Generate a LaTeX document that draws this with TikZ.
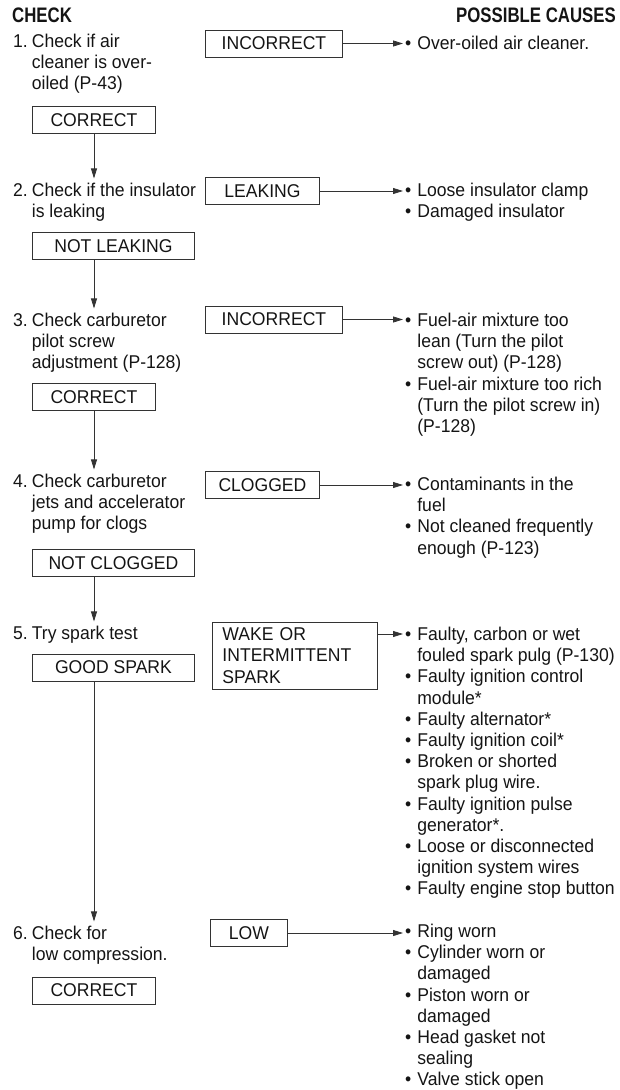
\documentclass[tikz,border=0pt]{standalone}
\usepackage{fontspec}
\setmainfont{Liberation Sans}[FakeStretch=0.95]
\newfontfamily\headfont{Liberation Sans}[FakeStretch=0.8]
\usetikzlibrary{arrows.meta, positioning}
\tikzstyle{result} = [rectangle, draw=black!80, line width=0.9pt, minimum height=27pt, inner xsep=0pt, anchor=west, text centered]
\tikzstyle{check} = [anchor=base west, inner sep=0pt]
\tikzstyle{cause} = [anchor=base west, inner sep=0pt]
\tikzstyle{heading} = [inner sep=0pt, font=\headfont\fontsize{21}{25}\selectfont\bfseries]
\tikzstyle{arrow} = [line width=0.8pt, draw=black!80, -{Triangle[length=10pt,width=6pt]}]
\newcommand{\stepitem}[2]{#1\hspace{4pt}\begin{tabular}[t]{@{}l@{}}#2\end{tabular}}
\newcommand{\causelist}[1]{\begin{tabular}[t]{@{}l@{\hspace{6pt}}l@{}}#1\end{tabular}}

\begin{document}
\begin{tikzpicture}[x=1pt, y=-1pt, font=\fontsize{18.5}{21.2}\selectfont, text=black!92]
    \useasboundingbox (0,0) rectangle (620,1090);
    \coordinate (spine) at (94,0);

    \node (head1) [heading, anchor=base west] at (12,22.5) {CHECK};
    \node (head2) [heading, anchor=base east] at (616,22.5) {POSSIBLE CAUSES};

    % 1. air cleaner
    \node (s1) [check] at (13,47.5) {\stepitem{1.}{Check if air\\cleaner is over-\\oiled (P-43)}};
    \node (bad1) [result, minimum width=137pt] at (205,43.5) {INCORRECT};
    \coordinate (t1) at (403,43.5);
    \node (c1) [cause] at (405,49.5) {\causelist{\textbullet & Over-oiled air cleaner.}};
    \node (ok1) [result, minimum width=123pt] at (32,120) {CORRECT};

    % 2. insulator
    \node (s2) [check] at (13,196.5) {\stepitem{2.}{Check if the insulator\\is leaking}};
    \node (bad2) [result, minimum width=114pt] at (205,191) {LEAKING};
    \coordinate (t2) at (403,191);
    \node (c2) [cause] at (405,196.5) {\causelist{\textbullet & Loose insulator clamp\\ \textbullet & Damaged insulator}};
    \node (ok2) [result, minimum width=162pt] at (32,246) {NOT LEAKING};

    % 3. pilot screw
    \node (s3) [check] at (13,326.5) {\stepitem{3.}{Check carburetor\\pilot screw\\adjustment (P-128)}};
    \node (bad3) [result, minimum width=137pt] at (205,319.5) {INCORRECT};
    \coordinate (t3) at (403,319.5);
    \node (c3) [cause] at (405,326.5) {\causelist{\textbullet & Fuel-air mixture too\\ & lean (Turn the pilot\\ & screw out) (P-128)\\
        \textbullet & Fuel-air mixture too rich\\ & (Turn the pilot screw in)\\ & (P-128)}};
    \node (ok3) [result, minimum width=123pt] at (32,397) {CORRECT};

    % 4. jets
    \node (s4) [check] at (13,487.5) {\stepitem{4.}{Check carburetor\\jets and accelerator\\pump for clogs}};
    \node (bad4) [result, minimum width=114pt] at (205,485) {CLOGGED};
    \coordinate (t4) at (403,485);
    \node (c4) [cause] at (405,490.5) {\causelist{\textbullet & Contaminants in the\\ & fuel\\ \textbullet & Not cleaned frequently\\ & enough (P-123)}};
    \node (ok4) [result, minimum width=162pt] at (32,563) {NOT CLOGGED};

    % 5. spark
    \node (s5) [check] at (13,639.5) {\stepitem{5.}{Try spark test}};
    \node (bad5) [result, minimum width=165pt, minimum height=67pt, inner xsep=10pt, text width=145pt, align=left] at (212,655.5) {WAKE OR\\INTERMITTENT\\SPARK};
    \coordinate (t5) at (403,634);
    \node (c5) [cause] at (405,640.5) {\causelist{\textbullet & Faulty, carbon or wet\\ & fouled spark pulg (P-130)\\
        \textbullet & Faulty ignition control\\ & module*\\ \textbullet & Faulty alternator*\\ \textbullet & Faulty ignition coil*\\
        \textbullet & Broken or shorted\\ & spark plug wire.\\ \textbullet & Faulty ignition pulse\\ & generator*.\\
        \textbullet & Loose or disconnected\\ & ignition system wires\\ \textbullet & Faulty engine stop button}};
    \node (ok5) [result, minimum width=162pt] at (32,667.5) {GOOD SPARK};

    % 6. compression
    \node (s6) [check] at (13,939.5) {\stepitem{6.}{Check for\\low compression.}};
    \node (bad6) [result, minimum width=77pt] at (210,933) {LOW};
    \coordinate (t6) at (403,933);
    \node (c6) [cause] at (405,937.5) {\causelist{\textbullet & Ring worn\\ \textbullet & Cylinder worn or\\ & damaged\\
        \textbullet & Piston worn or\\ & damaged\\ \textbullet & Head gasket not\\ & sealing\\ \textbullet & Valve stick open}};
    \node (ok6) [result, minimum width=123pt] at (32,990.5) {CORRECT};

    \draw [arrow] (bad1.east) -- (t1);
    \draw [arrow] (bad2.east) -- (t2);
    \draw [arrow] (bad3.east) -- (t3);
    \draw [arrow] (bad4.east) -- (t4);
    \draw [arrow] (bad5.east |- t5) -- (t5);
    \draw [arrow] (bad6.east) -- (t6);

    \draw [arrow, shorten >=3pt] (ok1.south -| spine) -- (s2.north -| spine);
    \draw [arrow, shorten >=3pt] (ok2.south -| spine) -- (s3.north -| spine);
    \draw [arrow, shorten >=3pt] (ok3.south -| spine) -- (s4.north -| spine);
    \draw [arrow, shorten >=3pt] (ok4.south -| spine) -- (s5.north -| spine);
    \draw [arrow, shorten >=3pt] (ok5.south -| spine) -- (s6.north -| spine);
\end{tikzpicture}
\end{document}
